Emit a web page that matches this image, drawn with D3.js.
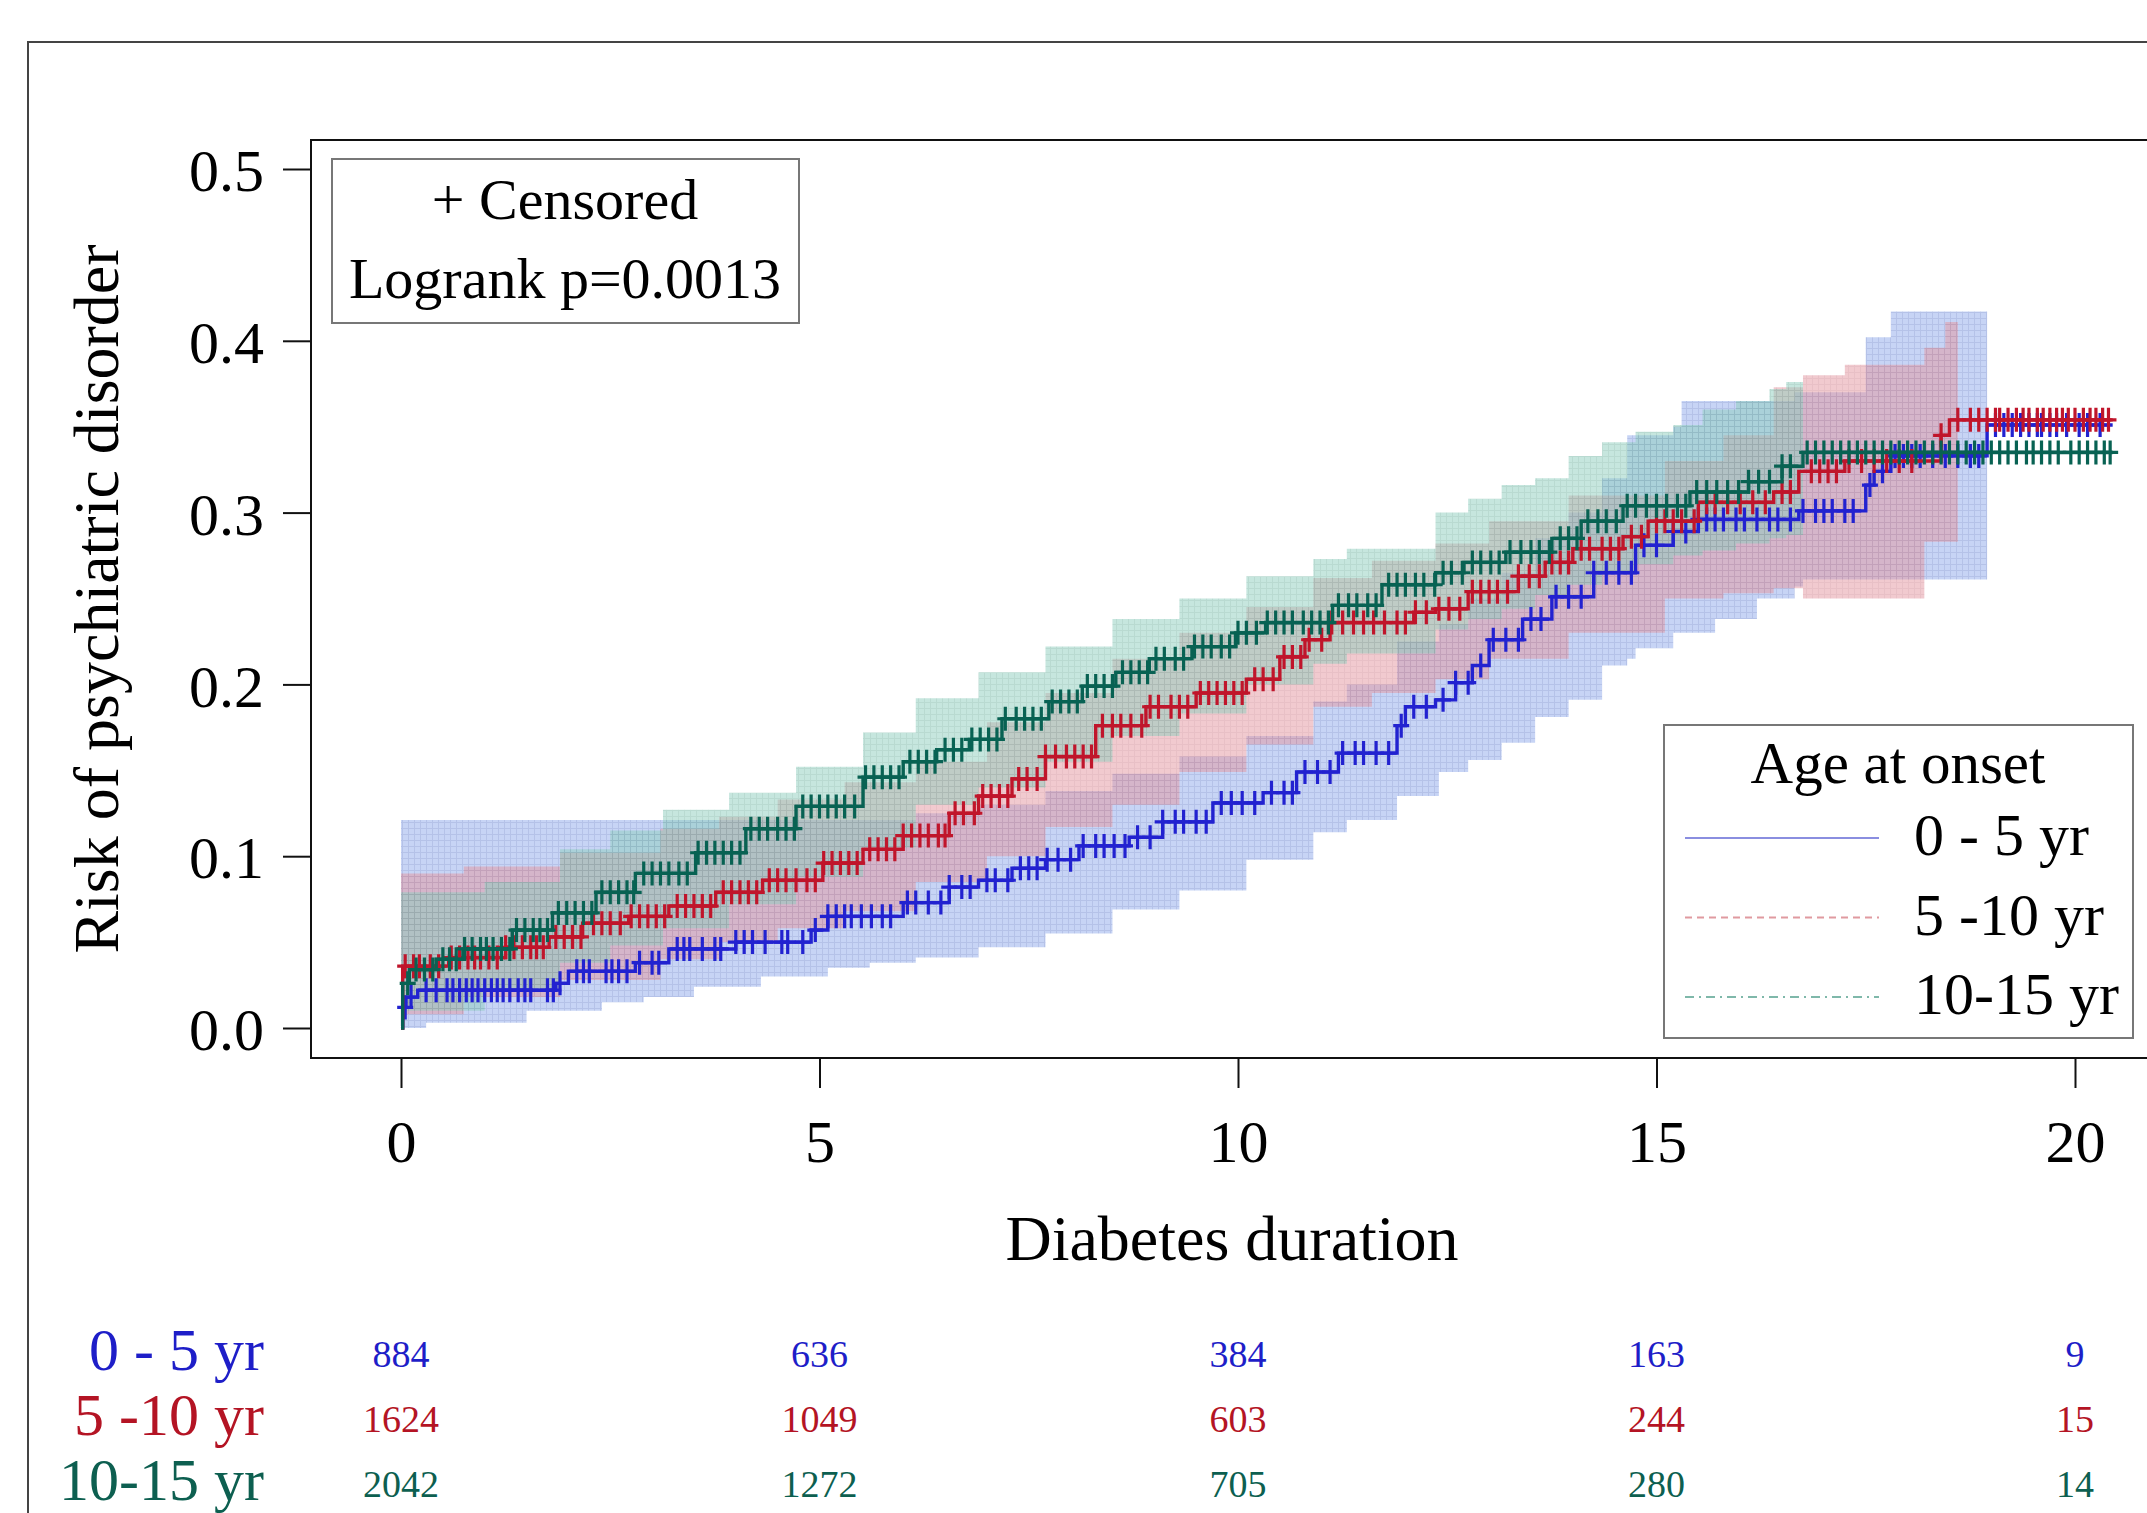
<!DOCTYPE html>
<html lang="en">
<head>
    <meta charset="utf-8">
    <script src="https://cdn.jsdelivr.net/npm/d3@7/dist/d3.min.js"></script>
    <style>
        body { margin: 0; background: #fff; }
        svg text { font-family: "Liberation Serif", "Times New Roman", serif; }
    </style>
</head>
<body>
<div id="chart"></div>
<script>
    // groups, table ticks and counts
    var groups = ["0 - 5 yr", "5 -10 yr", "10-15 yr"]
    var xTicks = [0, 5, 10, 15, 20]
    var yTicks = [0, 0.1, 0.2, 0.3, 0.4, 0.5]
    var blueRisk = [884, 636, 384, 163, 9]
    var redRisk = [1624, 1049, 603, 244, 15]
    var greenRisk = [2042, 1272, 705, 280, 14]

    // step curves (value holds from each time onward)
    var blueT = [0, 0.02, 0.06, 0.2, 1.85, 2.0, 2.8, 3.2, 4.0, 4.9, 5.1, 6.0, 6.55, 6.9, 7.3, 7.7, 8.1, 8.7, 9.1, 9.7, 10.3, 10.7, 11.2, 11.9, 12.0, 12.36, 12.6, 12.8, 13.0, 13.4, 13.75, 14.25, 14.75, 15.2, 15.5, 16.7, 17.5, 17.6, 17.8, 18.95, 20.45]
    var blueY = [0, 0.012, 0.018, 0.022, 0.026, 0.033, 0.038, 0.046, 0.050, 0.057, 0.065, 0.073, 0.082, 0.086, 0.093, 0.098, 0.106, 0.111, 0.120, 0.131, 0.137, 0.149, 0.160, 0.176, 0.187, 0.191, 0.201, 0.211, 0.226, 0.238, 0.251, 0.265, 0.281, 0.289, 0.296, 0.301, 0.316, 0.324, 0.333, 0.351, 0.351]
    var redT = [0, 0.02, 0.57, 1.25, 1.77, 2.17, 2.72, 3.2, 3.76, 4.32, 5.04, 5.52, 6.0, 6.55, 6.9, 7.3, 7.7, 8.3, 8.9, 9.5, 10.1, 10.5, 10.8, 11.1, 12.1, 12.36, 12.75, 13.35, 13.67, 14.0, 14.6, 14.9, 15.5, 16.4, 16.7, 17.25, 18.4, 18.5, 20.45]
    var redY = [0, 0.036, 0.041, 0.047, 0.053, 0.061, 0.065, 0.071, 0.079, 0.086, 0.096, 0.104, 0.112, 0.125, 0.135, 0.145, 0.158, 0.176, 0.187, 0.195, 0.203, 0.216, 0.226, 0.236, 0.242, 0.244, 0.254, 0.263, 0.271, 0.279, 0.286, 0.295, 0.306, 0.312, 0.324, 0.330, 0.345, 0.354, 0.354]
    var greenT = [0, 0.02, 0.1, 0.42, 0.74, 1.33, 1.81, 2.33, 2.8, 3.52, 4.12, 4.72, 5.52, 6.0, 6.4, 6.79, 7.18, 7.74, 8.14, 8.54, 8.94, 9.45, 9.97, 10.33, 11.13, 11.72, 12.36, 12.7, 13.2, 13.75, 14.1, 14.6, 15.4, 16.1, 16.5, 16.75, 20.45]
    var greenY = [0, 0.026, 0.034, 0.040, 0.046, 0.057, 0.067, 0.079, 0.090, 0.102, 0.116, 0.129, 0.146, 0.155, 0.162, 0.168, 0.180, 0.190, 0.199, 0.207, 0.215, 0.222, 0.230, 0.236, 0.246, 0.258, 0.265, 0.271, 0.277, 0.285, 0.295, 0.304, 0.312, 0.318, 0.327, 0.335, 0.335]

    // confidence bands
    var blueBandT = [0, 0.3, 1.5, 2.4, 2.9, 3.5, 4.3, 5.1, 5.6, 6.15, 6.9, 7.7, 8.5, 9.3, 10.1, 10.9, 11.3, 11.9, 12.4, 12.75, 13.15, 13.55, 13.95, 14.35, 14.65, 14.75, 15.2, 15.3, 15.7, 16.2, 16.65, 16.75, 17.5, 17.8, 18.95]
    var blueBandLo = [0.0, 0.003, 0.01, 0.015, 0.018, 0.024, 0.03, 0.035, 0.038, 0.041, 0.047, 0.055, 0.069, 0.08, 0.098, 0.114, 0.121, 0.135, 0.149, 0.156, 0.166, 0.181, 0.191, 0.211, 0.215, 0.221, 0.23, 0.23, 0.238, 0.25, 0.257, 0.261, 0.261, 0.261, 0.261]
    var blueBandHi = [0.121, 0.121, 0.121, 0.121, 0.121, 0.121, 0.121, 0.121, 0.121, 0.125, 0.13, 0.138, 0.148, 0.158, 0.17, 0.19, 0.2, 0.225, 0.235, 0.25, 0.265, 0.285, 0.3, 0.32, 0.345, 0.345, 0.35, 0.365, 0.365, 0.365, 0.37, 0.37, 0.402, 0.417, 0.417]
    var redBandT = [0, 0.75, 1.9, 3.1, 3.8, 4.5, 5.3, 6.15, 7.0, 7.7, 8.5, 9.3, 10.1, 10.9, 11.6, 12.36, 13.0, 13.95, 15.1, 15.8, 16.4, 16.75, 17.25, 18.2, 18.45, 18.6]
    var redBandLo = [0.008, 0.018, 0.028, 0.04, 0.05, 0.058, 0.068, 0.085, 0.1, 0.117, 0.13, 0.149, 0.165, 0.187, 0.195, 0.203, 0.215, 0.23, 0.25, 0.253, 0.256, 0.25, 0.25, 0.283, 0.283, 0.283]
    var redBandHi = [0.09, 0.094, 0.102, 0.116, 0.123, 0.133, 0.143, 0.155, 0.178, 0.195, 0.215, 0.23, 0.245, 0.262, 0.272, 0.282, 0.295, 0.31, 0.33, 0.345, 0.373, 0.38, 0.386, 0.396, 0.411, 0.411]
    var greenBandT = [0, 1.0, 1.9, 2.5, 3.13, 3.92, 4.72, 5.52, 6.15, 6.9, 7.7, 8.5, 9.3, 10.1, 10.9, 11.3, 12.36, 12.75, 13.15, 13.55, 13.95, 14.35, 14.75, 15.2, 15.55, 15.95, 16.35, 16.55, 16.75]
    var greenBandLo = [0.01, 0.022, 0.038, 0.048, 0.058, 0.072, 0.088, 0.105, 0.13, 0.14, 0.155, 0.17, 0.183, 0.2, 0.212, 0.218, 0.232, 0.238, 0.244, 0.252, 0.258, 0.265, 0.27, 0.275, 0.278, 0.282, 0.285, 0.287, 0.287]
    var greenBandHi = [0.079, 0.085, 0.104, 0.115, 0.127, 0.137, 0.152, 0.172, 0.192, 0.207, 0.222, 0.238, 0.25, 0.263, 0.273, 0.279, 0.30, 0.308, 0.316, 0.32, 0.333, 0.341, 0.347, 0.351, 0.36, 0.365, 0.372, 0.376, 0.376]

    // censoring times
    var blueCensor = [0.05, 0.12, 0.3, 0.42, 0.55, 0.62, 0.7, 0.78, 0.85, 0.92, 1.0, 1.08, 1.15, 1.22, 1.3, 1.4, 1.48, 1.55, 1.75, 1.82, 1.9, 2.1, 2.18, 2.25, 2.45, 2.52, 2.6, 2.7, 2.85, 3.0, 3.08, 3.3, 3.38, 3.45, 3.6, 3.75, 3.82, 4.0, 4.1, 4.2, 4.35, 4.55, 4.62, 4.8, 4.95, 5.1, 5.2, 5.3, 5.38, 5.5, 5.62, 5.75, 5.85, 6.05, 6.15, 6.3, 6.45, 6.55, 6.7, 6.8, 7.0, 7.1, 7.25, 7.4, 7.5, 7.6, 7.72, 7.85, 8.0, 8.15, 8.3, 8.4, 8.52, 8.65, 8.8, 8.95, 9.1, 9.25, 9.35, 9.5, 9.62, 9.8, 9.92, 10.05, 10.2, 10.4, 10.55, 10.65, 10.8, 10.95, 11.1, 11.25, 11.4, 11.5, 11.65, 11.8, 11.95, 12.1, 12.25, 12.45, 12.6, 12.75, 12.9, 13.05, 13.2, 13.35, 13.5, 13.62, 13.8, 13.95, 14.1, 14.25, 14.4, 14.55, 14.7, 14.85, 15.0, 15.2, 15.35, 15.5, 15.6, 15.7, 15.8, 15.95, 16.05, 16.2, 16.35, 16.45, 16.6, 16.75, 16.9, 17.0, 17.1, 17.25, 17.35, 17.55, 17.7, 17.85, 17.95, 18.05, 18.15, 18.3, 18.45, 18.6, 18.75, 18.85, 19.05, 19.15, 19.25, 19.35, 19.45, 19.55, 19.6, 19.7, 19.78, 19.9, 20.05, 20.15, 20.3]
    var redCensor = [0.05, 0.15, 0.22, 0.35, 0.45, 0.6, 0.7, 0.8, 0.88, 0.95, 1.05, 1.15, 1.25, 1.35, 1.45, 1.55, 1.62, 1.7, 1.85, 1.95, 2.05, 2.15, 2.3, 2.4, 2.5, 2.62, 2.75, 2.85, 2.95, 3.05, 3.15, 3.3, 3.4, 3.5, 3.6, 3.7, 3.85, 3.95, 4.05, 4.15, 4.25, 4.4, 4.5, 4.6, 4.72, 4.85, 4.95, 5.05, 5.15, 5.25, 5.35, 5.45, 5.6, 5.7, 5.8, 5.9, 6.0, 6.1, 6.2, 6.3, 6.42, 6.5, 6.62, 6.72, 6.85, 6.95, 7.05, 7.15, 7.25, 7.38, 7.48, 7.6, 7.7, 7.82, 7.95, 8.05, 8.15, 8.25, 8.38, 8.5, 8.6, 8.72, 8.85, 8.95, 9.05, 9.2, 9.3, 9.4, 9.55, 9.65, 9.75, 9.85, 9.95, 10.05, 10.2, 10.3, 10.42, 10.55, 10.65, 10.75, 10.85, 11.0, 11.12, 11.25, 11.38, 11.5, 11.62, 11.75, 11.9, 12.0, 12.12, 12.25, 12.4, 12.52, 12.65, 12.8, 12.9, 13.0, 13.1, 13.22, 13.35, 13.48, 13.6, 13.75, 13.85, 13.95, 14.1, 14.2, 14.35, 14.45, 14.55, 14.7, 14.82, 15.0, 15.1, 15.2, 15.3, 15.45, 15.6, 15.7, 15.85, 16.0, 16.15, 16.3, 16.5, 16.6, 16.85, 16.95, 17.05, 17.15, 17.3, 17.45, 17.6, 17.75, 17.9, 18.05, 18.4, 18.6, 18.75, 18.85, 18.95, 19.05, 19.1, 19.2, 19.3, 19.38, 19.45, 19.55, 19.62, 19.7, 19.78, 19.85, 19.92, 20.0, 20.1, 20.18, 20.25, 20.33, 20.4]
    var greenCensor = [0.08, 0.18, 0.28, 0.38, 0.5, 0.58, 0.66, 0.76, 0.85, 0.95, 1.02, 1.1, 1.2, 1.3, 1.38, 1.48, 1.58, 1.66, 1.75, 1.88, 1.98, 2.08, 2.18, 2.28, 2.4, 2.5, 2.6, 2.7, 2.78, 2.9, 3.0, 3.1, 3.2, 3.32, 3.42, 3.55, 3.65, 3.75, 3.85, 3.95, 4.05, 4.18, 4.28, 4.38, 4.5, 4.6, 4.7, 4.8, 4.9, 5.0, 5.1, 5.2, 5.3, 5.42, 5.55, 5.65, 5.75, 5.85, 5.95, 6.08, 6.18, 6.28, 6.38, 6.5, 6.6, 6.7, 6.82, 6.92, 7.02, 7.12, 7.22, 7.35, 7.45, 7.55, 7.65, 7.78, 7.88, 7.98, 8.08, 8.2, 8.3, 8.4, 8.5, 8.62, 8.72, 8.82, 8.92, 9.02, 9.12, 9.25, 9.35, 9.48, 9.58, 9.68, 9.8, 9.9, 10.0, 10.1, 10.22, 10.35, 10.45, 10.55, 10.65, 10.78, 10.88, 10.98, 11.08, 11.2, 11.32, 11.42, 11.55, 11.65, 11.8, 11.9, 12.0, 12.12, 12.22, 12.35, 12.45, 12.55, 12.68, 12.8, 12.9, 13.02, 13.12, 13.25, 13.38, 13.5, 13.6, 13.72, 13.85, 13.95, 14.05, 14.18, 14.3, 14.4, 14.52, 14.65, 14.75, 14.88, 15.0, 15.12, 15.25, 15.35, 15.48, 15.6, 15.72, 15.85, 15.98, 16.1, 16.22, 16.35, 16.5, 16.6, 16.8, 16.9, 17.0, 17.1, 17.2, 17.3, 17.4, 17.5, 17.6, 17.7, 17.8, 17.9, 18.0, 18.1, 18.2, 18.3, 18.4, 18.5, 18.6, 18.7, 18.8, 18.9, 19.0, 19.1, 19.2, 19.3, 19.42, 19.5, 19.6, 19.7, 19.8, 19.95, 20.05, 20.15, 20.25, 20.35, 20.42]

    var width = 2147
        height = 1513

    var svg = d3.select("#chart")
        .append("svg")
            .attr("width", width)
            .attr("height", height)

    var x = d3.scaleLinear().domain([0, 20]).range([401, 2075])
    var y = d3.scaleLinear().domain([0, 0.5]).range([1028, 169])

    // outer frame + plot box (right/bottom run off the picture)
    svg.append("rect")
        .attr("x", 28).attr("y", 42).attr("width", 2300).attr("height", 1700)
        .attr("fill", "none").attr("stroke", "#444").attr("stroke-width", 2)
    svg.append("rect")
        .attr("x", 311).attr("y", 140).attr("width", 2000).attr("height", 918)
        .attr("fill", "none").attr("stroke", "#111").attr("stroke-width", 2)

    var series = [
        {name: groups[0], t: blueT, v: blueY, bt: blueBandT, lo: blueBandLo, hi: blueBandHi, cens: blueCensor, risk: blueRisk,
         col: "#2222d0", text: "#1e1ec8", base: "#a2b8ee", grid: "#8499d8", op: 0.6, legend: "#8a8ee0", dash: null},
        {name: groups[1], t: redT, v: redY, bt: redBandT, lo: redBandLo, hi: redBandHi, cens: redCensor, risk: redRisk,
         col: "#c0152b", text: "#b41424", base: "#e2959f", grid: "#d0808c", op: 0.5, legend: "#e09aa0", dash: "7,5"},
        {name: groups[2], t: greenT, v: greenY, bt: greenBandT, lo: greenBandLo, hi: greenBandHi, cens: greenCensor, risk: greenRisk,
         col: "#086253", text: "#0d5f50", base: "#8ccdbd", grid: "#72b4a3", op: 0.5, legend: "#7fb8aa", dash: "9,5,2,5"}
    ]

    var defs = svg.append("defs")
    series.forEach(function(s, i) {
        var p = defs.append("pattern")
            .attr("id", "pat" + i).attr("patternUnits", "userSpaceOnUse")
            .attr("width", 6).attr("height", 6)
        p.append("rect").attr("width", 6).attr("height", 6).attr("fill", s.base)
        p.append("path").attr("d", "M0,0.5H6M0.5,0V6").attr("stroke", s.grid).attr("stroke-width", 1)
    })

    var area = d3.area()
        .curve(d3.curveStepAfter)
        .x(function(d) { return x(d.t) })
        .y0(function(d) { return y(d.lo) })
        .y1(function(d) { return y(d.hi) })

    series.forEach(function(s, i) {
        var pts = s.bt.map(function(t, k) { return {t: t, lo: s.lo[k], hi: s.hi[k]} })
        svg.append("path")
            .attr("d", area(pts))
            .attr("fill", "url(#pat" + i + ")")
            .attr("opacity", s.op)
    })

    var line = d3.line()
        .curve(d3.curveStepAfter)
        .x(function(d) { return x(d.t) })
        .y(function(d) { return y(d.v) })

    function stepAt(s, t) {
        var k = d3.bisectRight(s.t, t) - 1
        return s.v[Math.max(0, k)]
    }

    series.forEach(function(s) {
        var pts = s.t.map(function(t, k) { return {t: t, v: s.v[k]} })
        svg.append("path")
            .attr("d", line(pts))
            .attr("fill", "none")
            .attr("stroke", s.col)
            .attr("stroke-width", 3.4)
        svg.append("g")
            .selectAll("path")
            .data(s.cens)
            .enter()
            .append("path")
            .attr("d", function(t) {
                var cx = x(t), cy = y(stepAt(s, t))
                return "M" + (cx - 8) + "," + cy + "H" + (cx + 8) + "M" + cx + "," + (cy - 12) + "V" + (cy + 12)
            })
            .attr("stroke", s.col)
            .attr("stroke-width", 3.2)
            .attr("fill", "none")
    })

    // axes
    var yAxis = svg.append("g")
        .attr("transform", "translate(311,0)")
        .call(d3.axisLeft(y).tickValues(yTicks).tickFormat(d3.format(".1f")).tickSize(28).tickPadding(19))
    var xAxis = svg.append("g")
        .attr("transform", "translate(0,1058)")
        .call(d3.axisBottom(x).tickValues(xTicks).tickFormat(d3.format("d")).tickSize(30).tickPadding(31))
    ;[yAxis, xAxis].forEach(function(a) {
        a.select(".domain").remove()
        a.selectAll("line").attr("stroke", "#111").attr("stroke-width", 2)
        a.selectAll("text")
            .attr("fill", "#000")
            .style("font-family", "'Liberation Serif', serif")
            .style("font-size", "60px")
    })
    yAxis.selectAll("text").attr("dy", "0.36em")

    svg.append("text")
        .attr("x", 1232).attr("y", 1260)
        .attr("text-anchor", "middle")
        .style("font-size", "64px")
        .text("Diabetes duration")

    svg.append("text")
        .attr("transform", "translate(118,599) rotate(-90)")
        .attr("text-anchor", "middle")
        .style("font-size", "64px")
        .text("Risk of psychiatric disorder")

    // censored / logrank box
    svg.append("rect")
        .attr("x", 332).attr("y", 159).attr("width", 467).attr("height", 164)
        .attr("fill", "#fff").attr("stroke", "#777").attr("stroke-width", 2)
    svg.append("text")
        .attr("x", 565).attr("y", 219).attr("text-anchor", "middle")
        .style("font-size", "58px").text("+ Censored")
    svg.append("text")
        .attr("x", 565).attr("y", 298).attr("text-anchor", "middle")
        .style("font-size", "58px").text("Logrank p=0.0013")

    // legend
    var lg = svg.append("g")
    lg.append("rect")
        .attr("x", 1664).attr("y", 725).attr("width", 469).attr("height", 313)
        .attr("fill", "#fff").attr("stroke", "#777").attr("stroke-width", 2)
    lg.append("text")
        .attr("x", 1898).attr("y", 783).attr("text-anchor", "middle")
        .style("font-size", "59px").text("Age at onset")
    series.forEach(function(s, i) {
        var ly = 838 + i * 79.5
        lg.append("line")
            .attr("x1", 1685).attr("x2", 1879).attr("y1", ly).attr("y2", ly)
            .attr("stroke", s.legend).attr("stroke-width", 2.2)
            .attr("stroke-dasharray", s.dash)
        lg.append("text")
            .attr("x", 1914).attr("y", ly + 17)
            .style("font-size", "60px").text(s.name)
    })

    // numbers at risk
    series.forEach(function(s, i) {
        var by = 1370 + i * 65
        svg.append("text")
            .attr("x", 264).attr("y", by)
            .attr("text-anchor", "end")
            .attr("fill", s.text)
            .style("font-size", "60px")
            .text(s.name)
        svg.append("g")
            .selectAll("text")
            .data(s.risk)
            .enter()
            .append("text")
            .attr("x", function(d, k) { return x(xTicks[k]) })
            .attr("y", by - 3)
            .attr("text-anchor", "middle")
            .attr("fill", s.text)
            .style("font-size", "38px")
            .text(function(d) { return d })
    })
</script>
</body>
</html>
